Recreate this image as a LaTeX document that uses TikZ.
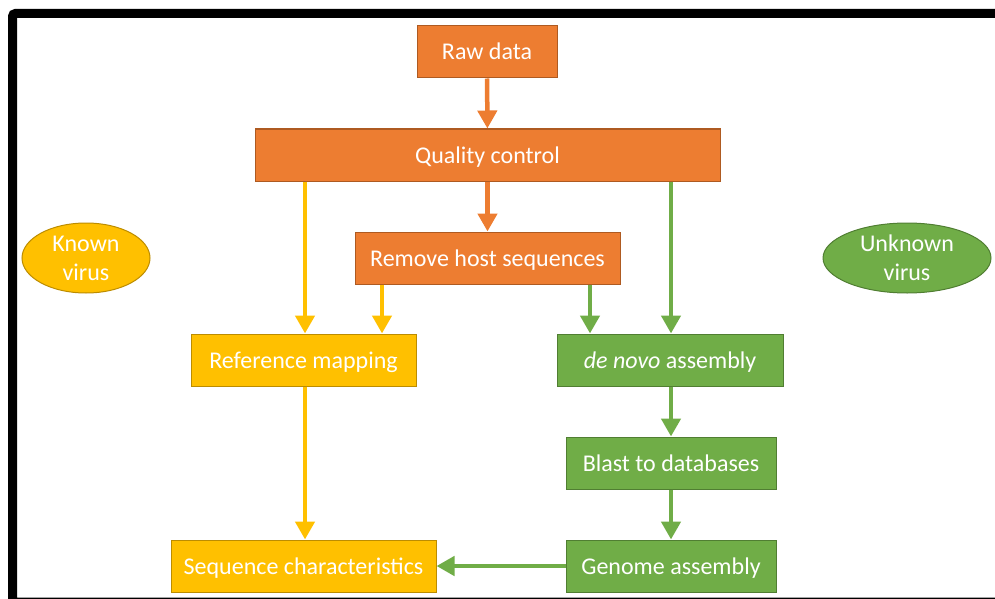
\documentclass[tikz,border=0pt]{standalone}
\usepackage{fontspec}
\setmainfont{Carlito}
\usetikzlibrary{arrows.meta,shapes.geometric}
\definecolor{org}{HTML}{ED7D31}
\definecolor{orgd}{HTML}{AE5A21}
\definecolor{yel}{HTML}{FFC000}
\definecolor{yeld}{HTML}{BC8C00}
\definecolor{grn}{HTML}{70AD47}
\definecolor{grnd}{HTML}{507E32}
\tikzset{
  box/.style={draw, line width=1pt, minimum height=52pt, inner sep=0pt, text=white,
    text height=20pt, text depth=4pt, font=\fontsize{24}{29}\selectfont},
  obox/.style={box, fill=org, draw=orgd},
  ybox/.style={box, fill=yel, draw=yeld},
  gbox/.style={box, fill=grn, draw=grnd},
  oval/.style={ellipse, draw, line width=1pt, minimum height=70pt, inner sep=0pt, text=white,
    font=\fontsize{24}{29}\selectfont, align=center},
  arr/.style={line width=4.5pt, -{Triangle[width=19pt,length=18pt]}},
  oarr/.style={arr, draw=org, fill=org},
  yarr/.style={arr, draw=yel, fill=yel},
  garr/.style={arr, draw=grn, fill=grn},
}
\begin{document}
\begin{tikzpicture}[x=1pt,y=-1pt]
\useasboundingbox (0,0) rectangle (995,599);
\begin{scope}
\clip (0,0) rectangle (995,599);
\draw[line width=9pt, rounded corners=3pt] (12.5,13.5) rectangle (1012,602);
\end{scope}
\node[obox, minimum width=140pt] (raw) at (487,52) {Raw data};
\node[obox, minimum width=465pt] (qc) at (487.5,155) {Quality control};
\node[obox, minimum width=265pt] (host) at (487.5,258) {Remove host sequences};
\node[ybox, minimum width=225pt] (ref) at (303.5,360) {Reference mapping};
\node[gbox, minimum width=226pt] (denovo) at (670,360) {\textit{de novo} assembly};
\node[gbox, minimum width=210pt] (blast) at (671,463) {Blast to databases};
\node[ybox, minimum width=265pt] (seq) at (303.5,566) {Sequence characteristics};
\node[gbox, minimum width=210pt] (genome) at (671,566) {Genome assembly};
\node[oval, fill=yel, draw=yeld, minimum width=128pt] (known) at (86,258) {Known\\virus};
\node[oval, fill=grn, draw=grnd, minimum width=168pt] (unknown) at (907,258) {Unknown\\virus};
\coordinate (xa) at (305,0);
\coordinate (xb) at (382,0);
\coordinate (xc) at (590,0);
\coordinate (xd) at (671,0);
\draw[oarr] (raw) -- (qc);
\draw[oarr] (qc) -- (host);
\draw[yarr] (qc.south -| xa) -- (ref.north -| xa);
\draw[yarr] (host.south -| xb) -- (ref.north -| xb);
\draw[garr] (host.south -| xc) -- (denovo.north -| xc);
\draw[garr] (qc.south -| xd) -- (denovo.north -| xd);
\draw[yarr] (ref.south -| xa) -- (seq.north -| xa);
\draw[garr] (denovo.south -| xd) -- (blast.north -| xd);
\draw[garr] (blast.south -| xd) -- (genome.north -| xd);
\draw[garr] (genome) -- (seq);
\end{tikzpicture}
\end{document}
